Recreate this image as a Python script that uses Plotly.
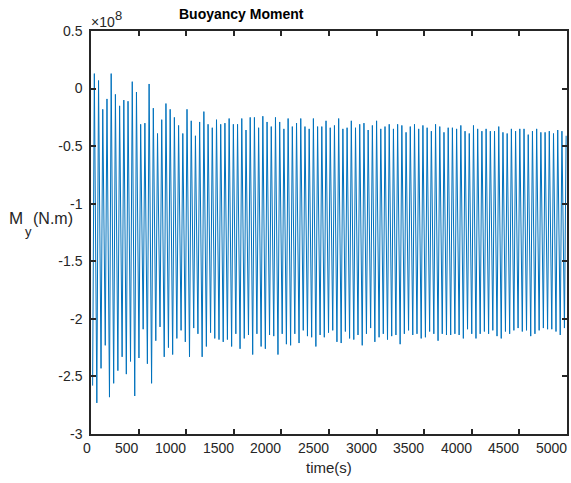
import numpy as np
import plotly.graph_objects as go

# ---- data (values in units of 1e8 N.m) ----
peaks = [0.13, 0.07, -0.18, -0.09, 0.13, -0.05, -0.15, -0.10, -0.11, 0.06,
         -0.03, -0.31, -0.30, 0.04, -0.17, -0.39, -0.27, -0.13, -0.18, -0.25,
         -0.32, -0.39, -0.18, -0.28, -0.41, -0.29, -0.20, -0.31, -0.34, -0.27,
         -0.31, -0.30, -0.26, -0.31, -0.31, -0.26, -0.36, -0.25, -0.25, -0.34,
         -0.24, -0.29, -0.33, -0.25, -0.29, -0.35, -0.26, -0.33, -0.30, -0.26,
         -0.33, -0.35, -0.26, -0.33, -0.33, -0.28,
         -0.34, -0.32, -0.26, -0.35, -0.34, -0.28, -0.34, -0.31, -0.30, -0.36,
         -0.32, -0.28, -0.35, -0.33, -0.31, -0.35, -0.31, -0.32, -0.38, -0.33,
         -0.31, -0.35, -0.32, -0.34, -0.37, -0.31, -0.33, -0.38, -0.34, -0.34,
         -0.35, -0.32, -0.37, -0.39, -0.32, -0.35, -0.37, -0.35, -0.37, -0.37,
         -0.33, -0.38, -0.39, -0.35, -0.37, -0.35, -0.35, -0.40, -0.37, -0.35,
         -0.38, -0.38, -0.37, -0.39, -0.36, -0.37, -0.41]

troughs = [-2.58, -2.73, -2.43, -2.23, -2.68, -2.56, -2.45, -2.33, -2.48, -2.37,
           -2.67, -2.34, -2.09, -2.39, -2.56, -2.19, -2.07, -2.33, -2.25, -2.31,
           -2.17, -2.10, -2.20, -2.33, -2.08, -2.13, -2.33, -2.24, -2.12, -2.17,
           -2.18, -2.20, -2.18, -2.24, -2.13, -2.26, -2.17, -2.14, -2.31, -2.13,
           -2.24, -2.26, -2.14, -2.15, -2.31, -2.13, -2.22, -2.23, -2.13, -2.21,
           -2.10, -2.15, -2.16, -2.24, -2.14, -2.16, -2.12,
           -2.10, -2.20, -2.21, -2.11, -2.17, -2.18, -2.14, -2.23, -2.13, -2.08,
           -2.20, -2.16, -2.13, -2.18, -2.15, -2.14, -2.22, -2.13, -2.10, -2.14,
           -2.13, -2.17, -2.16, -2.11, -2.13, -2.19, -2.13, -2.14, -2.14, -2.13,
           -2.14, -2.17, -2.09, -2.13, -2.17, -2.13, -2.11, -2.13, -2.10, -2.15,
           -2.17, -2.11, -2.13, -2.10, -2.08, -2.11, -2.10, -2.15, -2.13, -2.10,
           -2.08, -2.09, -2.09, -2.11, -2.14, -2.08]

period_s = 44.25
first_trough_s = 17.0
first_peak_s = 35.0

x_ticks = [0, 500, 1000, 1500, 2000, 2500, 3000, 3500, 4000, 4500, 5000]
x_tick_labels = [str(v) for v in x_ticks]
y_ticks = [0.5, 0, -0.5, -1, -1.5, -2, -2.5, -3]
y_tick_labels = ["0.5", "0", "-0.5", "-1", "-1.5", "-2", "-2.5", "-3"]

# ---- build series (alternating trough / peak samples) ----
n = min(len(peaks), len(troughs))
k = np.arange(n)
t_tr = first_trough_s + period_s * k
t_pk = first_peak_s + period_s * k
t = np.empty(2 * n)
v = np.empty(2 * n)
t[0::2] = t_tr
t[1::2] = t_pk
v[0::2] = troughs[:n]
v[1::2] = peaks[:n]

FONT = "Liberation Sans, Arial, sans-serif"
TXT = "#262626"

fig = go.Figure()
fig.add_trace(go.Scatter(x=t, y=v, mode="lines",
                         line=dict(color="#0072BD", width=1),
                         hoverinfo="skip", showlegend=False))

W, H = 571, 483
L, R, T, B = 91, 2, 31, 49
fig.update_layout(
    width=W, height=H, autosize=False,
    margin=dict(l=L, r=R, t=T, b=B, pad=0),
    paper_bgcolor="white", plot_bgcolor="white",
    font=dict(family=FONT, size=14, color=TXT),
    showlegend=False,
)
axis_common = dict(showline=True, linecolor=TXT, linewidth=1.5, mirror="ticks",
                   ticks="inside", ticklen=5, tickwidth=1.5, tickcolor=TXT,
                   showgrid=False, zeroline=False)
fig.update_xaxes(range=[0, 5000], tickvals=x_ticks, showticklabels=False,
                 **axis_common)
fig.update_yaxes(range=[-3, 0.5], tickvals=y_ticks, ticktext=y_tick_labels,
                 tickfont=dict(family=FONT, size=14, color=TXT),
                 ticklabelstandoff=4, **axis_common)

ann = []
for xv, lab in zip(x_ticks, x_tick_labels):
    ann.append(dict(x=xv, xref="x", y=0, yref="paper", text=lab,
                    xanchor="right", yanchor="top", yshift=-4, xshift=2,
                    showarrow=False, font=dict(family=FONT, size=14, color=TXT)))
pw = W - L - R
ph = H - T - B
def px(xp):
    return (xp - L) / pw
def py(yp):
    return (H - B - yp) / ph

ann += [
    dict(x=0.5, xref="paper", y=py(467), yref="paper", text="time(s)",
         xanchor="center", yanchor="middle", showarrow=False,
         font=dict(family=FONT, size=15, color=TXT)),
    dict(x=px(242), xref="paper", y=py(14), yref="paper", text="<b>Buoyancy Moment</b>",
         xanchor="center", yanchor="middle", showarrow=False,
         font=dict(family=FONT, size=14, color="black")),
    dict(x=px(8), xref="paper", y=py(218), yref="paper", text="M",
         xanchor="left", yanchor="middle", showarrow=False, borderpad=0,
         font=dict(family=FONT, size=17, color=TXT)),
    dict(x=px(32), xref="paper", y=py(219), yref="paper", text="(N.m)",
         xanchor="left", yanchor="middle", showarrow=False, borderpad=0,
         font=dict(family=FONT, size=16, color=TXT)),
    dict(x=px(28.5), xref="paper", y=py(231), yref="paper", text="y",
         xanchor="center", yanchor="middle", showarrow=False, borderpad=0,
         font=dict(family=FONT, size=13, color=TXT)),
    dict(x=px(89), xref="paper", y=py(22), yref="paper", text="\u00d710",
         xanchor="left", yanchor="middle", showarrow=False,
         font=dict(family=FONT, size=14, color=TXT)),
    dict(x=px(113), xref="paper", y=py(16), yref="paper", text="8",
         xanchor="left", yanchor="middle", showarrow=False,
         font=dict(family=FONT, size=13, color=TXT)),
]
fig.update_layout(annotations=ann)

fig.write_html("out.html")
